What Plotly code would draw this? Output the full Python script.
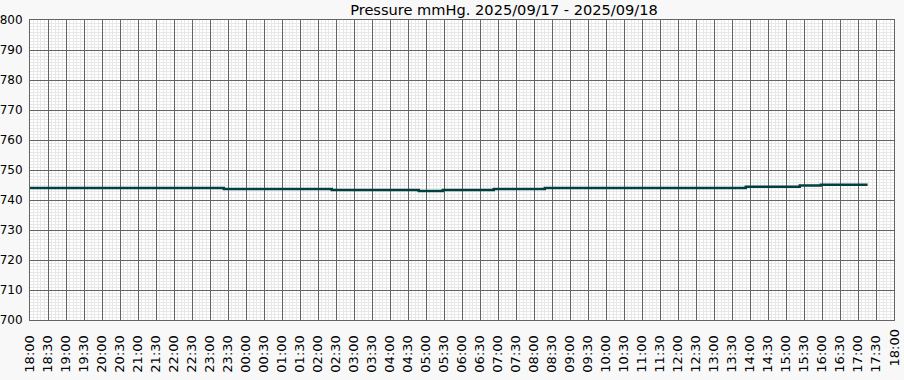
import pandas as pd
import plotly.graph_objects as go

# Data (step changes in pressure, mmHg)
times = [
    "2025-09-17 18:00", "2025-09-17 23:23", "2025-09-18 02:23", "2025-09-18 04:48",
    "2025-09-18 05:28", "2025-09-18 06:53", "2025-09-18 08:18", "2025-09-18 13:53",
    "2025-09-18 15:23", "2025-09-18 15:58", "2025-09-18 17:16",
]
pressure = [744.0, 743.7, 743.3, 743.0, 743.3, 743.7, 744.0, 744.4, 744.8, 745.1, 745.1]

tick_labels = [
    "18:00", "18:30", "19:00", "19:30", "20:00", "20:30", "21:00", "21:30",
    "22:00", "22:30", "23:00", "23:30", "00:00", "00:30", "01:00", "01:30",
    "02:00", "02:30", "03:00", "03:30", "04:00", "04:30", "05:00", "05:30",
    "06:00", "06:30", "07:00", "07:30", "08:00", "08:30", "09:00", "09:30",
    "10:00", "10:30", "11:00", "11:30", "12:00", "12:30", "13:00", "13:30",
    "14:00", "14:30", "15:00", "15:30", "16:00", "16:30", "17:00", "17:30",
    "18:00",
]
x_range = ["2025-09-17 18:00", "2025-09-18 18:00"]
y_range = [700, 800]
title_text = "Pressure mmHg. 2025/09/17 - 2025/09/18"

FONT = "DejaVu Sans"

tick_pos = list(pd.date_range(x_range[0], periods=len(tick_labels), freq="30min"))

fig = go.Figure()
fig.add_trace(go.Scatter(
    x=times, y=pressure, mode="lines", line_shape="hv",
    line=dict(color="#004040", width=2.5), hoverinfo="x+y", showlegend=False,
))

# last tick label (at the right edge) drawn as annotation so it is not dropped
fig.add_annotation(
    x=tick_pos[-1], xref="x", y=0, yref="paper", yanchor="top", xanchor="center",
    text=tick_labels[-1], textangle=-90, showarrow=False, yshift=-8,
    font=dict(family=FONT, size=13, color="#000000"),
)

fig.update_layout(
    width=904, height=380,
    margin=dict(l=30, r=10, t=20, b=60, pad=0),
    paper_bgcolor="#f8f8f8", plot_bgcolor="#ffffff",
    font=dict(family=FONT, size=13, color="#000000"),
    title=dict(text=title_text, x=504 / 904, xref="container",
               xanchor="center", y=1 - 10 / 380, yref="container", yanchor="middle",
               font=dict(family=FONT, size=14.6, color="#000000")),
    xaxis=dict(
        type="date", range=x_range, tickmode="array",
        tickvals=tick_pos[:-1], ticktext=tick_labels[:-1],
        tickangle=-90, ticks="", showgrid=True,
        gridcolor="#646464", gridwidth=1, showline=True, linecolor="#646464",
        linewidth=1, mirror=True, zeroline=False, ticklabelstandoff=9,
        automargin=False, ticklabeloverflow="allow",
        tickfont=dict(family=FONT, size=13, color="#000000"),
        minor=dict(dtick=6 * 60 * 1000, tick0=x_range[0], showgrid=True,
                   gridcolor="#e8e8e8", gridwidth=1),
    ),
    yaxis=dict(
        range=y_range, dtick=10, tick0=700, ticks="", showgrid=True,
        gridcolor="#646464", gridwidth=1, showline=True, linecolor="#646464",
        linewidth=1, mirror=True, zeroline=False, automargin=False,
        ticklabelstandoff=4, ticklabeloverflow="allow",
        tickfont=dict(family=FONT, size=12, color="#000000"),
        minor=dict(dtick=1, showgrid=True, gridcolor="#e8e8e8", gridwidth=1),
    ),
)

fig.write_html(
    "out.html",
    config={"displayModeBar": False},
    post_script=(
        "document.body.style.margin='0';"
        "document.body.style.background='#f8f8f8';"
    ),
)
